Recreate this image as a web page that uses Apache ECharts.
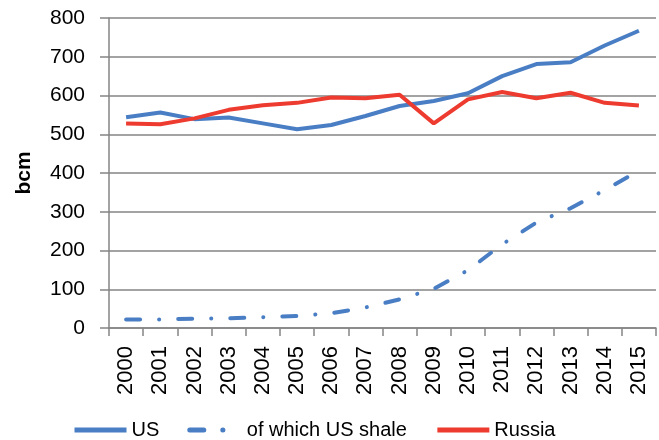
<!DOCTYPE html>
<html>
<head>
<meta charset="utf-8">
<script src="https://cdn.jsdelivr.net/npm/echarts@6/dist/echarts.min.js"></script>
<style>
html, body { margin: 0; padding: 0; background: #fff; }
#main { width: 659px; height: 440px; }
</style>
</head>
<body>
<div id="main"></div>
<script>
// years and production, bcm
var years = ['2000','2001','2002','2003','2004','2005','2006','2007','2008','2009','2010','2011','2012','2013','2014','2015'];
var us = [544, 556, 539, 543, 528, 513, 524, 547, 573, 586, 606, 650, 681, 686, 729, 767];
var usShale = [22, 22, 24, 25, 28, 31, 38, 53, 74, 101, 149, 216, 272, 309, 356, 406];
var russia = [528, 526, 541, 563, 575, 581, 595, 593, 602, 528, 590, 609, 593, 607, 581, 574];

var font = 'Liberation Sans';
var blue = '#4a7ec4';
var red = '#ee3b30';
var gridGray = '#858585';

var chart = echarts.init(document.getElementById('main'));
var option = {
    animation: false,
    textStyle: { fontFamily: font },
    grid: { left: 109, right: 3, top: 18, bottom: 112, containLabel: false },
    legend: {
        top: 415,
        left: 67,
        itemWidth: 52,
        itemHeight: 20,
        itemGap: 28,
        itemStyle: { opacity: 0 },
        lineStyle: { width: 5 },
        textStyle: { fontSize: 20, color: '#000', fontFamily: font },
        data: ['US', 'of which US shale', 'Russia']
    },
    xAxis: {
        type: 'category',
        data: years,
        boundaryGap: true,
        axisLine: { lineStyle: { color: gridGray, width: 1.5 } },
        axisTick: { show: true, length: 8, lineStyle: { color: gridGray, width: 1.5 } },
        axisLabel: { rotate: 90, fontSize: 22, color: '#000', margin: 18, fontFamily: font }
    },
    yAxis: {
        type: 'value',
        min: 0,
        max: 800,
        interval: 100,
        name: 'bcm',
        nameLocation: 'middle',
        nameRotate: 90,
        nameGap: 74,
        nameTextStyle: { fontSize: 21, fontWeight: 'bold', color: '#000', fontFamily: font },
        axisLine: { show: true, lineStyle: { color: gridGray, width: 1.5 } },
        axisTick: { show: true, length: 9, lineStyle: { color: gridGray, width: 1.5 } },
        splitLine: { lineStyle: { color: gridGray, width: 1.5 } },
        axisLabel: { fontSize: 21, color: '#000', margin: 24, fontFamily: font }
    },
    series: [
        {
            name: 'US', type: 'line', data: us, symbol: 'none',
            itemStyle: { color: blue },
            lineStyle: { color: blue, width: 4 }
        },
        {
            name: 'of which US shale', type: 'line', data: usShale, symbol: 'none',
            itemStyle: { color: blue },
            lineStyle: { color: blue, width: 4, type: [14, 19, 0.1, 19], cap: 'round' }
        },
        {
            name: 'Russia', type: 'line', data: russia, symbol: 'none',
            itemStyle: { color: red },
            lineStyle: { color: red, width: 4 }
        }
    ]
};
chart.setOption(option);
</script>
</body>
</html>
